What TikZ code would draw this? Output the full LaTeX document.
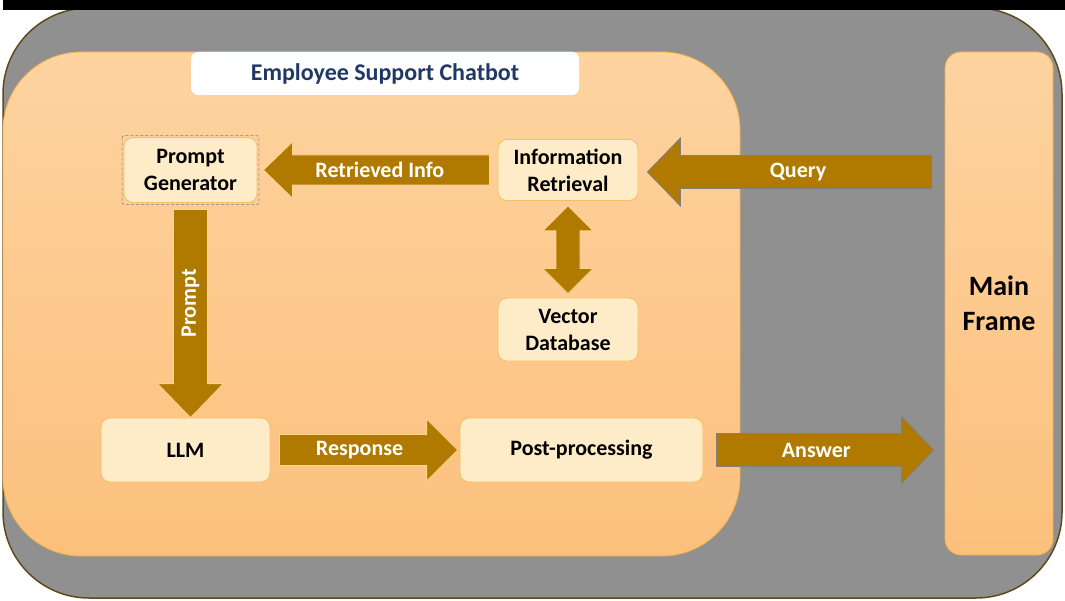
\documentclass[tikz,border=0pt]{standalone}
\usepackage{fontspec}
\setmainfont{Carlito}
\usetikzlibrary{calc}
\definecolor{arrowfill}{RGB}{176,122,0}
\definecolor{outergray}{RGB}{144,144,144}
\definecolor{outerline}{RGB}{94,74,26}
\definecolor{peachtop}{RGB}{254,211,160}
\definecolor{peachbot}{RGB}{252,192,124}
\definecolor{boxfill}{RGB}{254,235,200}
\definecolor{boxline}{RGB}{244,192,98}
\definecolor{innerline}{RGB}{237,179,71}
\definecolor{titlecol}{RGB}{31,56,100}
\definecolor{glow}{RGB}{255,214,140}
\newcommand{\bkarrow}[6]{% style, tail, tip, shaft half, head half, head length
  \coordinate (bah) at ($(#3)!#6!(#2)$);
  \draw[#1] ($(#2)!#4!90:(#3)$) -- ($(bah)!#4!90:(#3)$) -- ($(bah)!#5!90:(#3)$) -- (#3)
    -- ($(bah)!#5!-90:(#3)$) -- ($(bah)!#4!-90:(#3)$) -- ($(#2)!#4!-90:(#3)$) -- cycle;
}
\newcommand{\dblarrow}[6]{% style, end A, end B, shaft half, head half, head length
  \coordinate (dbm) at ($(#2)!#6!(#3)$);
  \coordinate (dbn) at ($(#3)!#6!(#2)$);
  \draw[#1] (#2) -- ($(dbm)!#5!90:(#3)$) -- ($(dbm)!#4!90:(#3)$) -- ($(dbn)!#4!-90:(#2)$)
    -- ($(dbn)!#5!-90:(#2)$) -- (#3) -- ($(dbn)!#5!90:(#2)$) -- ($(dbn)!#4!90:(#2)$)
    -- ($(dbm)!#4!-90:(#3)$) -- ($(dbm)!#5!-90:(#3)$) -- cycle;
}
\begin{document}
\begin{tikzpicture}[x=1pt,y=-1pt,
  box/.style={draw=boxline, fill=boxfill, rounded corners=9pt, line width=0.8pt, align=center,
    font=\fontsize{22}{27}\selectfont\bfseries, inner sep=0pt},
  lbl/.style={text=white, font=\fontsize{22}{26}\selectfont\bfseries, inner sep=0pt},
  arr/.style={fill=arrowfill, draw=glow, line width=0.8pt, line join=miter},
  arrg/.style={fill=arrowfill, draw=gray, line width=0.8pt, line join=miter}
]
\useasboundingbox (0,0) rectangle (1065,601);
% outer container
\draw[fill=outergray, draw=outerline, line width=1.5pt, rounded corners=86pt] (3,8) rectangle (1062,598);
\fill[black] (3,0) rectangle (1065,10);
% chatbot container
\draw[top color=peachtop, bottom color=peachbot, draw=innerline, line width=0.8pt, rounded corners=78pt]
  (3,52) rectangle (740,556);
% main frame
\node[draw=innerline, top color=peachtop, bottom color=peachbot, line width=0.8pt, rounded corners=16pt,
  minimum width=108pt, minimum height=503pt, inner sep=0pt, align=center,
  font=\fontsize{28}{35}\selectfont\bfseries] (mf) at (999,303.5) {Main\\Frame};
% title
\node[fill=white, rounded corners=7pt, minimum width=388pt, minimum height=43pt, inner sep=0pt,
  text=titlecol, font=\fontsize{24}{28}\selectfont\bfseries] (title) at (385,73.5) {Employee Support Chatbot};
% boxes
\node[box, minimum width=133pt, minimum height=65pt] (pg) at (190.5,170) {Prompt\\Generator};
\draw[densely dashed, draw=gray, line width=0.6pt, rounded corners=2pt]
  ($(pg.north west)+(-1.5,-1.5)$) rectangle ($(pg.south east)+(1.5,1.5)$);
\node[box, minimum width=140pt, minimum height=61pt] (ir) at (568,170) {Information\\Retrieval};
\node[box, minimum width=140pt, minimum height=63pt] (vd) at (568,329.5) {Vector\\Database};
\node[box, minimum width=169pt, minimum height=64pt] (llm) at (185.5,450) {LLM};
\node[box, minimum width=243pt, minimum height=64pt] (pp) at (581.5,450) {Post-processing};
% connector end points
\coordinate (rtail) at ([xshift=-8pt]ir.west);
\coordinate (rtip) at ([xshift=6pt]pg.east);
\coordinate (qt0) at (mf.west |- ir.east);
\coordinate (qtail) at ([xshift=-13pt,yshift=-2pt]qt0);
\coordinate (qtip) at ([xshift=9pt,yshift=-2pt]ir.east);
\coordinate (ptail) at ([yshift=-6.5pt]pg.south);
\coordinate (ptip) at (pg.south |- llm.north);
\coordinate (stail) at ([xshift=9pt]llm.east);
\coordinate (stip) at ([xshift=-2pt]pp.west);
\coordinate (atail) at ([xshift=13pt]pp.east);
\coordinate (at0) at (mf.west |- pp.east);
\coordinate (atip) at ([xshift=-11pt]at0);
\coordinate (dtop) at ([yshift=-5pt]ir.south);
\coordinate (dbot) at ([yshift=4pt]vd.north);
% block arrows
\bkarrow{arr}{rtail}{rtip}{15pt}{28pt}{29pt}
\bkarrow{arrg}{qtail}{qtip}{16.5pt}{34pt}{33pt}
\bkarrow{arr}{ptail}{ptip}{17pt}{33pt}{34pt}
\bkarrow{arr}{stail}{stip}{15.5pt}{31pt}{31pt}
\bkarrow{arrg}{atail}{atip}{16.5pt}{33.5pt}{32pt}
\dblarrow{arr}{dtop}{dbot}{12pt}{25pt}{25pt}
% arrow labels
\node[lbl] (lret) at ($(rtail)!0.485!(rtip)$) {Retrieved Info};
\node[lbl] (lq) at ($(qtail)!0.47!(qtip)$) {Query};
\node[lbl, rotate=90] (lp) at ($(ptail)!0.45!(ptip)$) {Prompt};
\node[lbl] (lr) at ($(stail)!0.45!(stip)$) {Response};
\node[lbl] (la) at ($(atail)!0.46!(atip)$) {Answer};
\end{tikzpicture}
\end{document}
